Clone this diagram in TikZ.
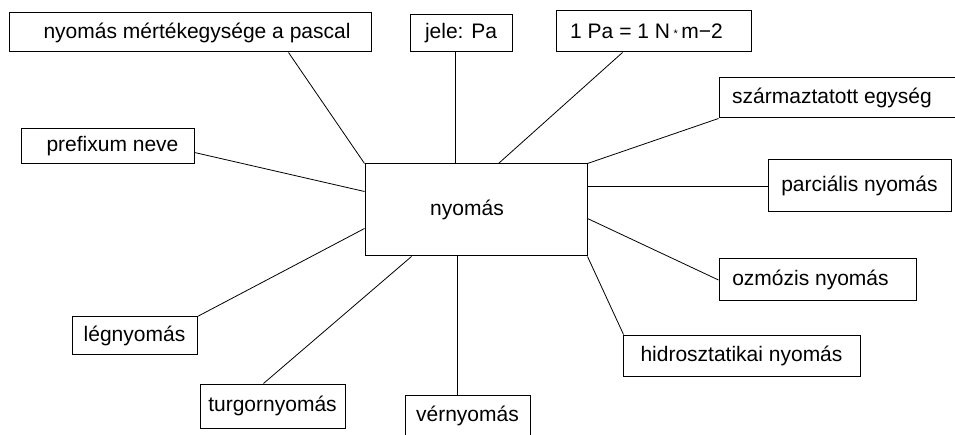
\documentclass[tikz,border=0pt]{standalone}
\usepackage{fontspec}
\setmainfont{Liberation Sans}
\usetikzlibrary{calc}
\tikzset{
  box/.style={draw=black, line width=1pt, inner sep=0pt, fill=white,
    font=\fontsize{21}{25}\selectfont},
  link/.style={draw=black, line width=0.8pt},
}
\begin{document}
\begin{tikzpicture}[x=1pt, y=-1pt]
\clip (0,0) rectangle (955,435);
\fill[white] (0,0) rectangle (955,435);
% boxes
\node[box, minimum width=222pt, minimum height=92pt] (c) at (476,210) {nyomás\hspace*{18pt}};
\node[box, minimum width=362pt, minimum height=39pt] (pascal) at (190,32.5) {\hspace*{14pt}nyomás mértékegysége a pascal};
\node[box, minimum width=102pt, minimum height=37pt] (jele) at (461,33.5) {jele: Pa};
\node[box, minimum width=195pt, minimum height=41pt] (pa) at (653.5,31.5) {1 Pa = 1 N\,\raisebox{0.1ex}{\fontsize{11}{11}\selectfont *}\,m−2\hspace*{14pt}};
\node[box, minimum width=239pt, minimum height=40pt] (szar) at (838.5,98) {származtatott egység\hspace*{13pt}};
\node[box, minimum width=183pt, minimum height=52pt] (parc) at (859.5,186) {parciális nyomás};
\node[box, minimum width=173pt, minimum height=35pt] (pref) at (107.5,146.5) {\hspace*{10pt}prefixum neve};
\node[box, minimum width=125pt, minimum height=37pt] (leg) at (134.5,335.5) {légnyomás};
\node[box, minimum width=145pt, minimum height=44pt] (turg) at (272.5,406) {turgornyomás};
\node[box, minimum width=125pt, minimum height=42pt] (ver) at (467.5,416) {vérnyomás};
\node[box, minimum width=197pt, minimum height=42pt] (ozm) at (817.5,280) {ozmózis nyomás\hspace*{14pt}};
\node[box, minimum width=237pt, minimum height=41pt] (hid) at (741.5,355.5) {hidrosztatikai nyomás};
% connectors
\coordinate (pascalEnd) at ($(pascal.south west)+(280,0)$);
\coordinate (jeleEnd) at ($(jele.south west)+(46,0)$);
\coordinate (paEnd) at ($(pa.south west)+(67,0)$);
\coordinate (cPa) at ($(c.north west)+(134,0)$);
\coordinate (prefEnd) at ($(pref.south east)+(0,-12)$);
\coordinate (cPref) at ($(c.north west)+(0,28)$);
\coordinate (cLeg) at ($(c.north west)+(0,65)$);
\coordinate (turgEnd) at ($(turg.north west)+(64,0)$);
\coordinate (cTurg) at ($(c.south west)+(47,0)$);
\coordinate (verEnd) at ($(ver.north west)+(53,0)$);
\coordinate (cOzm) at ($(c.north east)+(0,55)$);
\coordinate (hidEnd) at ($(hid.north west)+(1,0)$);
\draw[link] (pascalEnd) -- (c.north west);
\draw[link] (jeleEnd) -- (c.north -| jeleEnd);
\draw[link] (paEnd) -- (cPa);
\draw[link] (szar.south west) -- (c.north east);
\draw[link] (parc.west) -- (c.east |- parc.west);
\draw[link] (prefEnd) -- (cPref);
\draw[link] (leg.north east) -- (cLeg);
\draw[link] (turgEnd) -- (cTurg);
\draw[link] (verEnd) -- (c.south -| verEnd);
\draw[link] (ozm.west) -- (cOzm);
\draw[link] (hidEnd) -- (c.south east);
\end{tikzpicture}
\end{document}
